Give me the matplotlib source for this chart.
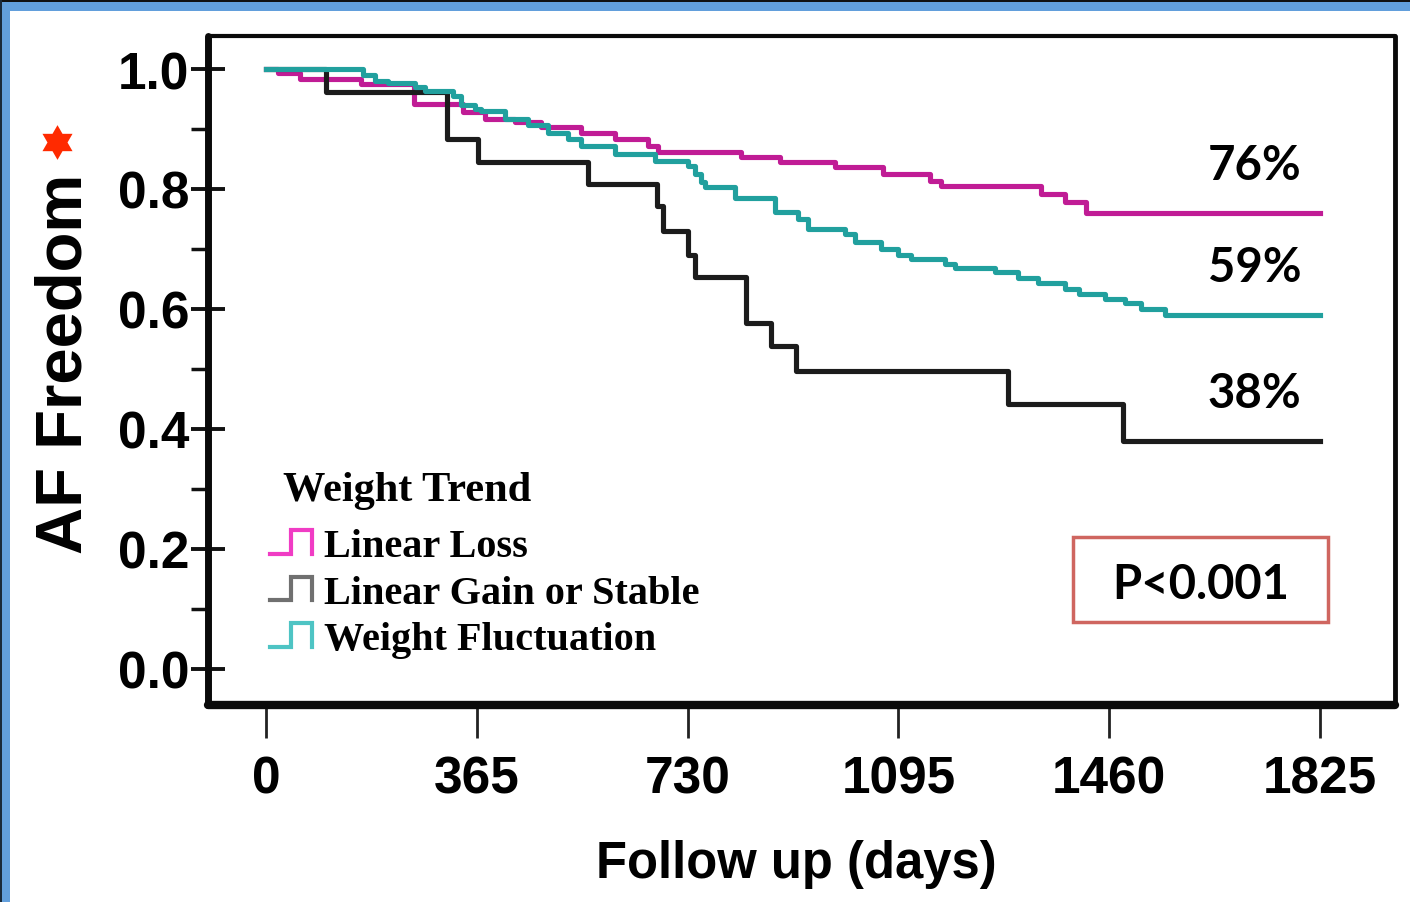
import numpy as np
import matplotlib
matplotlib.use("Agg")
import matplotlib.pyplot as plt
from matplotlib.lines import Line2D
from matplotlib.legend_handler import HandlerBase
from matplotlib.patches import Rectangle
from matplotlib.path import Path
from matplotlib.ticker import FormatStrFormatter

# Kaplan-Meier steps: day at which each level begins, and the AF-free fraction
loss_days = [0, 21, 59, 165, 256, 341, 379, 431, 476, 546, 605, 662, 679, 823,
             890, 986, 1069, 1150, 1169, 1342, 1384, 1420, 1825]
loss_surv = [1.0, 0.993, 0.983, 0.975, 0.942, 0.928, 0.917, 0.911, 0.903, 0.894,
             0.883, 0.872, 0.862, 0.853, 0.845, 0.837, 0.825, 0.813, 0.805, 0.792,
             0.778, 0.76, 0.76]

gain_days = [0, 104, 313, 367, 558, 677, 688, 731, 743, 831, 875, 918, 1285, 1484, 1825]
gain_surv = [1.0, 0.962, 0.883, 0.845, 0.808, 0.772, 0.730, 0.690, 0.653, 0.577,
             0.538, 0.497, 0.442, 0.38, 0.38]

fluct_days = [0, 168, 189, 211, 258, 275, 324, 338, 362, 372, 414, 454, 488, 523,
              546, 605, 674, 731, 743, 753, 760, 812, 882, 922, 939, 1003, 1020,
              1065, 1095, 1117, 1176, 1193, 1263, 1303, 1337, 1384, 1407, 1453,
              1488, 1516, 1557, 1825]
fluct_surv = [1.0, 0.99, 0.98, 0.977, 0.97, 0.964, 0.955, 0.94, 0.933, 0.93, 0.917,
              0.906, 0.894, 0.883, 0.872, 0.858, 0.847, 0.838, 0.825, 0.812, 0.803,
              0.785, 0.762, 0.75, 0.733, 0.725, 0.712, 0.70, 0.69, 0.683, 0.675,
              0.668, 0.661, 0.651, 0.643, 0.633, 0.625, 0.617, 0.61, 0.60, 0.59, 0.59]

group_labels = ["Linear Loss", "Linear Gain or Stable", "Weight Fluctuation"]
legend_title = "Weight Trend"
final_pct = ["76%", "38%", "59%"]
x_ticks = [0, 365, 730, 1095, 1460, 1825]
y_ticks = [0.0, 0.2, 0.4, 0.6, 0.8, 1.0]
y_minor = [0.1, 0.3, 0.5, 0.7, 0.9]
p_text = "P<0.001"

line_colors = ["#C01C95", "#1C1C1C", "#21A09E"]
key_colors = ["#F03CC4", "#707070", "#4EC4C4"]

plt.rcParams["font.family"] = ["Liberation Sans", "DejaVu Sans"]
plt.rcParams["font.weight"] = "bold"

fig = plt.figure(figsize=(14.10, 9.03), dpi=100)
fig.patch.set_facecolor("white")
W, H = 1410, 903

# frame decoration along the top and left edges
fig.patches.append(Rectangle((0, 1 - 12 / H), 1, 12 / H, transform=fig.transFigure,
                             facecolor="#629FDC", edgecolor="none", zorder=0))
fig.patches.append(Rectangle((0, 1 - 3 / H), 1, 3 / H, transform=fig.transFigure,
                             facecolor="#111111", edgecolor="none", zorder=1))
fig.patches.append(Rectangle((0, 0), 10 / W, 1, transform=fig.transFigure,
                             facecolor="#629FDC", edgecolor="none", zorder=0))
fig.patches.append(Rectangle((0, 0), 2 / W, 1, transform=fig.transFigure,
                             facecolor="#1A2A3A", edgecolor="none", zorder=1))

ax = fig.add_axes([208 / W, 1 - 706 / H, (1395 - 208) / W, (706 - 37) / H])
ax.set_xlim(-100.4, 1955)
ax.set_ylim(-0.06, 1.055)

series = [(loss_days, loss_surv), (gain_days, gain_surv), (fluct_days, fluct_surv)]
draw_order = [1, 0, 2]
for i in draw_order:
    d, s = series[i]
    ax.step(d, s, where="post", color=line_colors[i], lw=3.7, zorder=3 + i)

# spines
ax.spines["left"].set_linewidth(5.0)
ax.spines["bottom"].set_linewidth(6.0)
ax.spines["top"].set_linewidth(3.0)
ax.spines["right"].set_linewidth(3.5)
for sp in ax.spines.values():
    sp.set_color("#0A0A0A")
    sp.set_capstyle("round")

ax.set_xticks(x_ticks)
ax.set_xticklabels([str(t) for t in x_ticks])
ax.set_yticks(y_ticks)
ax.set_yticks(y_minor, minor=True)
ax.yaxis.set_major_formatter(FormatStrFormatter("%.1f"))
ax.tick_params(axis="y", which="major", direction="inout", length=25, width=2.8,
               pad=1, labelsize=37, color="#111111")
ax.tick_params(axis="y", which="minor", direction="out", length=12.5, width=2.5,
               color="#111111")
ax.tick_params(axis="x", which="major", direction="out", length=24, width=2.0,
               pad=12, labelsize=37, color="#222222")

ax.set_xlabel("Follow up (days)", fontsize=36.5, fontweight="bold")
ax.xaxis.set_label_coords(0.496, -0.201)
ax.set_ylabel("AF Freedom", fontsize=47, fontweight="bold")
ax.yaxis.set_label_coords(-0.0952, 0.511)

# final survival annotations
finals = [loss_surv[-1], gain_surv[-1], fluct_surv[-1]]
for val, txt in zip(finals, final_pct):
    ax.text(1793, val + 0.08, txt, ha="right", va="center", fontsize=34,
            fontweight="bold", family=["Lato", "DejaVu Sans"], color="black")

# p-value box
ax.add_patch(Rectangle((0.7287, 0.124), 0.2149, 0.127, transform=ax.transAxes,
                       facecolor="white", edgecolor="#CF6660", lw=2.5, zorder=6))
ax.text(0.836, 0.181, p_text, transform=ax.transAxes, ha="center", va="center",
        fontsize=34, fontweight="bold", family=["Lato", "DejaVu Sans"], zorder=7)


class StepKey(HandlerBase):
    def create_artists(self, legend, orig_handle, xdescent, ydescent, width,
                       height, fontsize, trans):
        xs = np.array([0.0, 0.5, 0.5, 1.0, 1.0]) * width - xdescent
        ys = np.array([0.0, 0.0, 1.0, 1.0, 0.0]) * height - ydescent
        key = Line2D(xs, ys, color=orig_handle.get_color(),
                     lw=orig_handle.get_linewidth(), solid_joinstyle="miter")
        key.set_transform(trans)
        return [key]


handles = [Line2D([], [], color=c, lw=3.0) for c in key_colors]
serif = {"family": "Liberation Serif", "weight": "bold", "size": 29}
leg = ax.legend(handles, group_labels, loc="upper left",
                bbox_to_anchor=(0.0522, 0.2645), frameon=False, prop=serif,
                borderpad=0, borderaxespad=0, handlelength=1.05, handleheight=0.52,
                handletextpad=0.3, labelspacing=0.24,
                handler_map={Line2D: StepKey()})
ax.text(0.0632, 0.3214, legend_title, transform=ax.transAxes, ha="left",
        va="center", family="Liberation Serif", fontweight="bold", fontsize=30.5)

# red star beside the axis title
star = Path.unit_regular_star(6, 0.577)
fig.add_artist(Line2D([57 / W], [1 - 143 / H], marker=star, markersize=25,
                      color="#FF2A00", markeredgewidth=0, linestyle="none",
                      transform=fig.transFigure))

fig.savefig("out.png", dpi=100, facecolor="white")
